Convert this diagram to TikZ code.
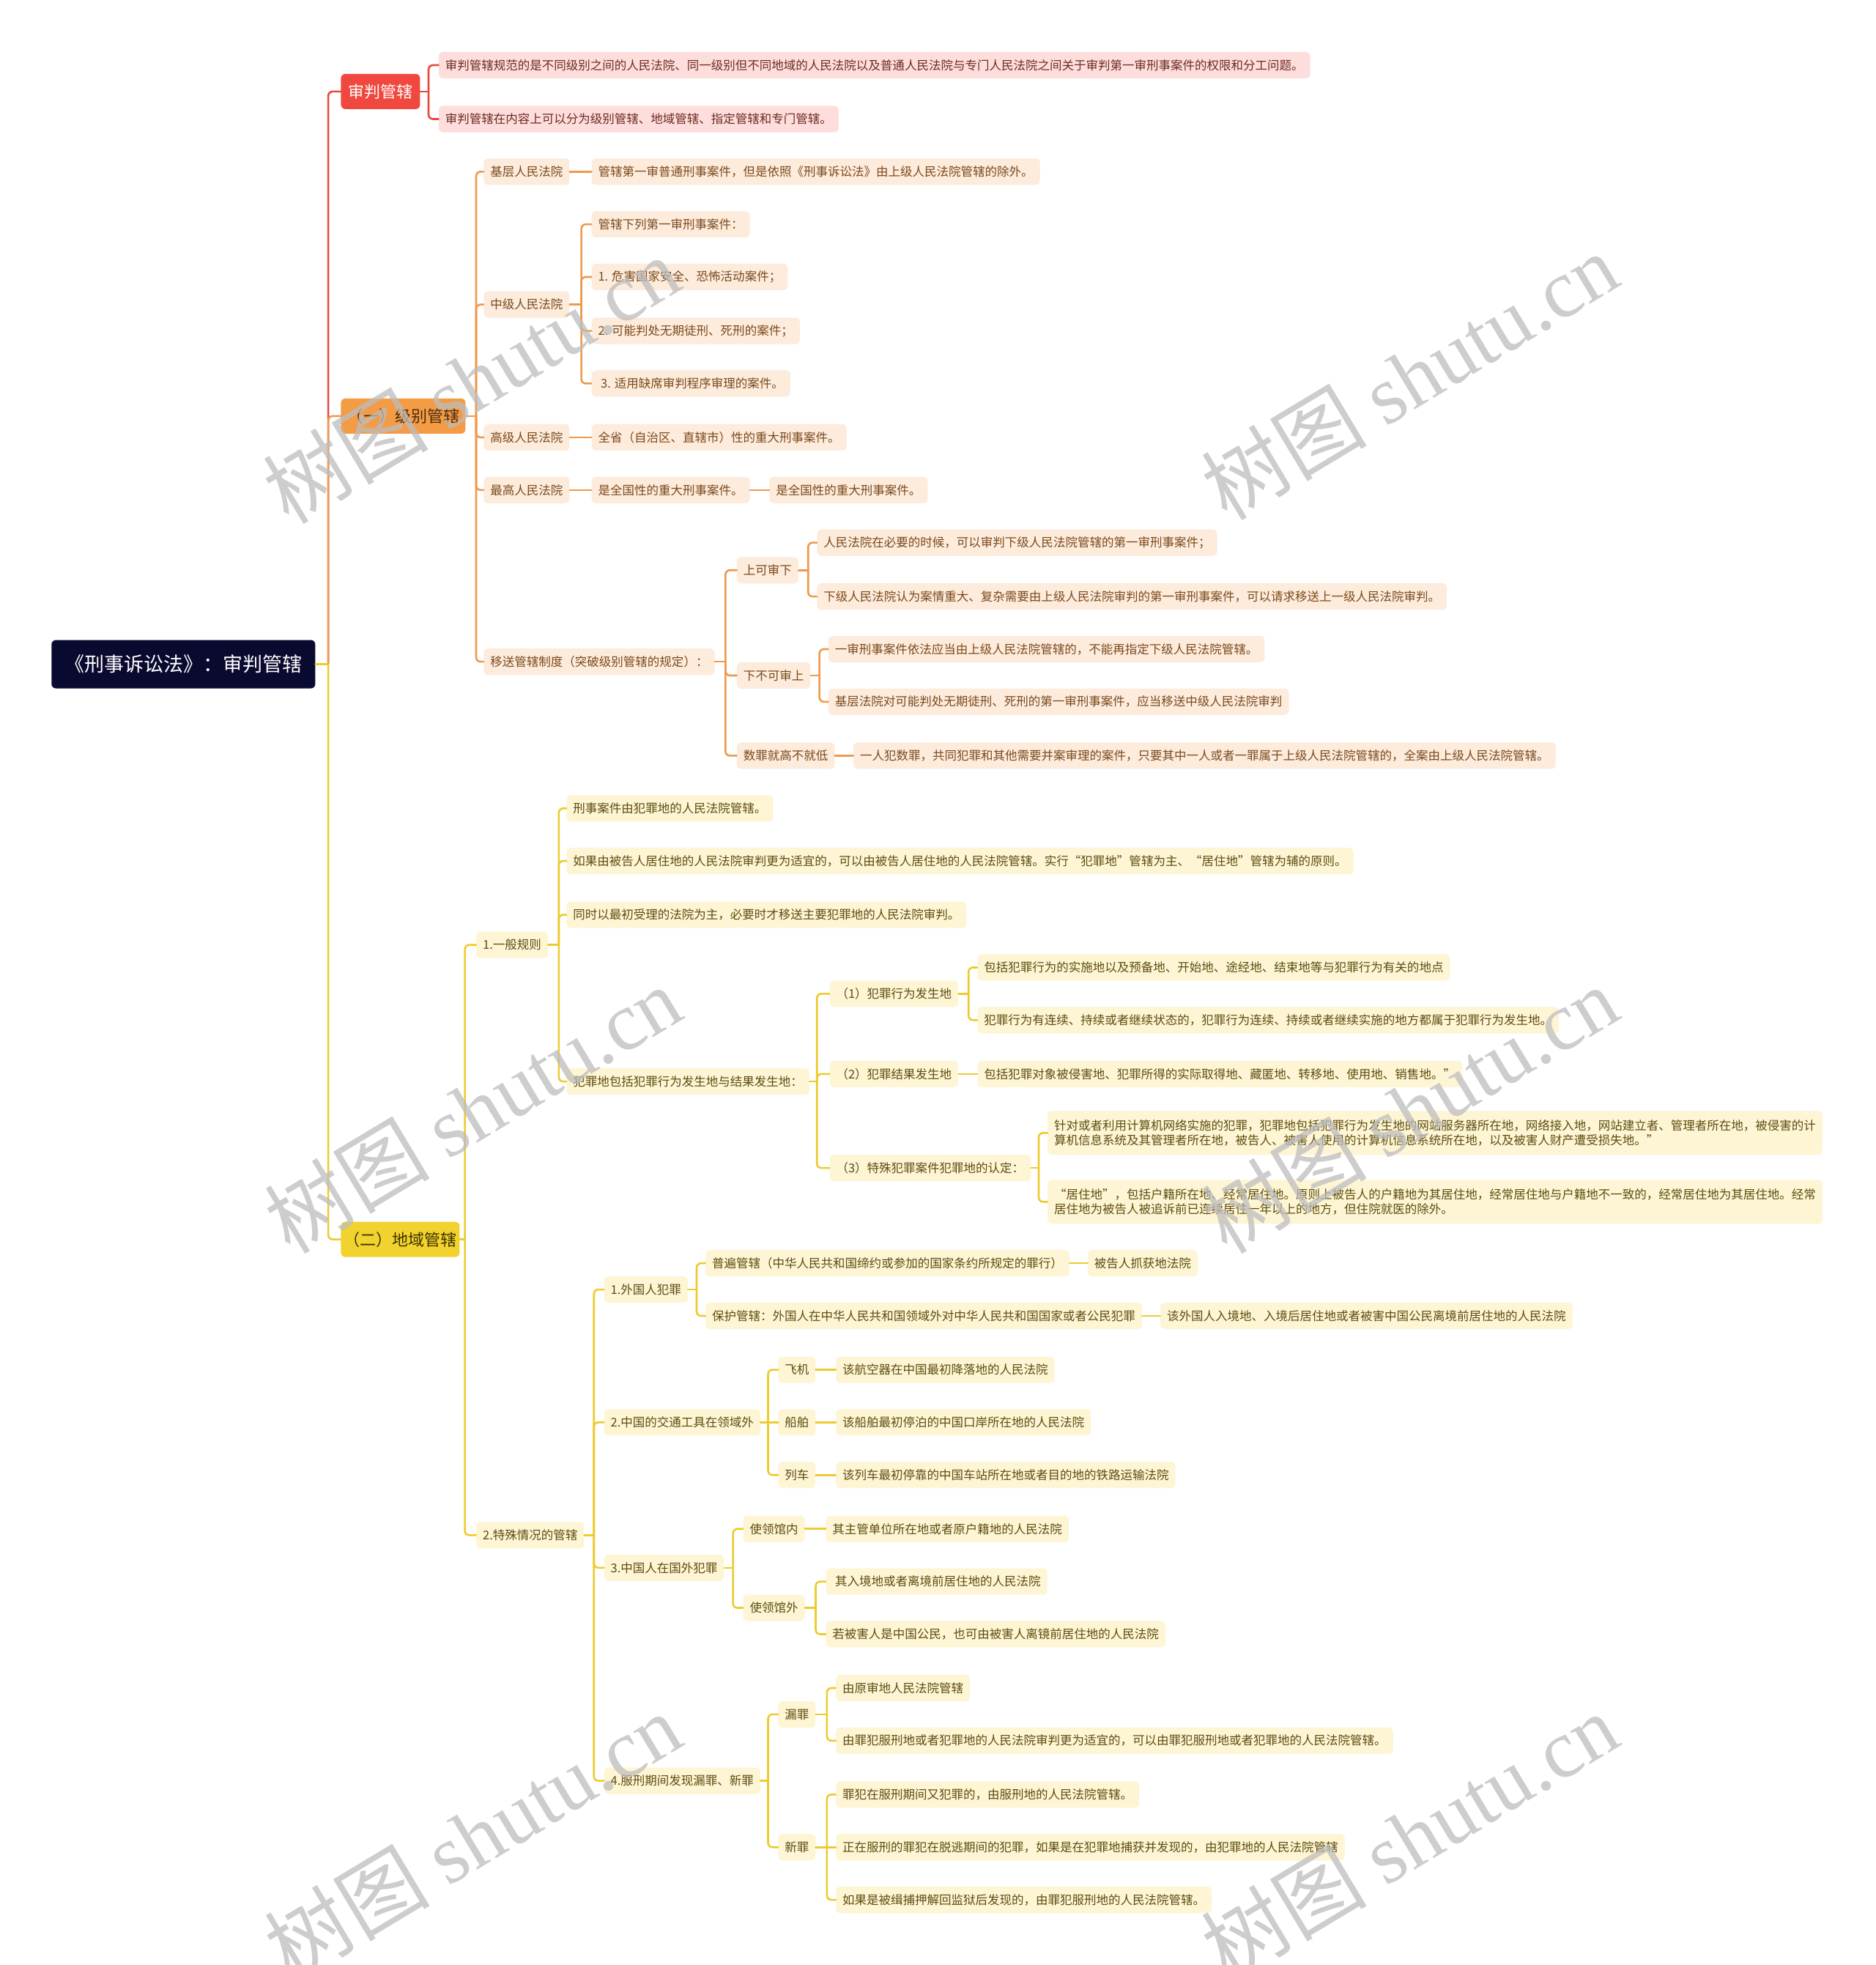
\documentclass[tikz,border=0pt]{standalone}
\usepackage{fontspec}
\setmainfont{Noto Sans CJK SC}
\newfontfamily\wmlatin{Liberation Serif}
\usetikzlibrary{calc}
\definecolor{rootfill}{HTML}{0A0A30}
\definecolor{redfill}{HTML}{F0483E}
\definecolor{redline}{HTML}{E8473C}
\definecolor{pinkfill}{HTML}{FDDEDC}
\definecolor{pinktext}{HTML}{6E2A22}
\definecolor{orgfill}{HTML}{F39B45}
\definecolor{orgline}{HTML}{EE9A4C}
\definecolor{orgtext}{HTML}{4A2D10}
\definecolor{peachfill}{HTML}{FDEBDC}
\definecolor{peachtext}{HTML}{7A4A1C}
\definecolor{yelfill}{HTML}{F2D22E}
\definecolor{yelline}{HTML}{EDCB2E}
\definecolor{yeltext}{HTML}{3D3200}
\definecolor{creamfill}{HTML}{FDF5D4}
\definecolor{creamtext}{HTML}{5E4C10}
\definecolor{wmgray}{HTML}{BDBDBD}
\newcommand\fork[4]{%
  \coordinate (bx) at (#3,0);
  \draw[#1] (#2.east) -- (#2.east -| bx);
  \foreach \ch in {#4}{\draw[#1,rounded corners=6pt] (#2.east -| bx) |- (\ch.west);}%
}
\newcommand\straight[3]{\draw[#1] (#2.east) -- (#3.west);}
\begin{document}
\begin{tikzpicture}[x=1.7101pt,y=-1.7101pt,
  boxbase/.style={anchor=west, rounded corners=6pt, inner ysep=0pt},
  rootbox/.style={boxbase, fill=rootfill, text=white, font=\fontsize{27}{32}\selectfont, inner xsep=18pt, minimum height=66pt},
  lone/.style={boxbase, font=\fontsize{22}{26}\selectfont, inner xsep=10pt, minimum height=48pt},
  leaf/.style={boxbase, font=\fontsize{16.5}{20.5}\selectfont, inner xsep=9pt, minimum height=36pt},
  pinkleaf/.style={leaf, fill=pinkfill, text=pinktext},
  peachleaf/.style={leaf, fill=peachfill, text=peachtext},
  creamleaf/.style={leaf, fill=creamfill, text=creamtext},
  twoline/.style={creamleaf, align=left, inner ysep=6pt, minimum height=60pt},
  redln/.style={draw=redline, line width=2.6pt, line cap=round},
  orgln/.style={draw=orgline, line width=2.6pt, line cap=round},
  yelln/.style={draw=yelline, line width=2.6pt, line cap=round},
  wm/.style={text=wmgray, opacity=0.75, font=\fontsize{113}{113}\selectfont, rotate=31}
]
\clip (0,0) rectangle (1497,1568);
\useasboundingbox (0,0) rectangle (1497,1568);
\fill[white] (0,0) rectangle (1497,1568);

% root and level 1
\node[rootbox] (root) at (41,530) {《刑事诉讼法》：审判管辖};
\node[lone, fill=redfill, text=white] (La) at (272,73) {审判管辖};
\node[lone, fill=orgfill, text=orgtext, inner xsep=8pt] (Lb) at (272,332) {（一）级别管辖};
\node[lone, fill=yelfill, text=yeltext, inner xsep=4pt] (Lc) at (272,989) {（二）地域管辖};

% red branch
\node[pinkleaf] (P1) at (350,52) {审判管辖规范的是不同级别之间的人民法院、同一级别但不同地域的人民法院以及普通人民法院与专门人民法院之间关于审判第一审刑事案件的权限和分工问题。};
\node[pinkleaf] (P2) at (350,95) {审判管辖在内容上可以分为级别管辖、地域管辖、指定管辖和专门管辖。};

% orange branch
\node[peachleaf] (A1) at (386,137) {基层人民法院};
\node[peachleaf] (A1a) at (472,137) {管辖第一审普通刑事案件，但是依照《刑事诉讼法》由上级人民法院管辖的除外。};
\node[peachleaf] (A2) at (386,243) {中级人民法院};
\node[peachleaf] (A2a) at (472,179) {管辖下列第一审刑事案件：};
\node[peachleaf] (A2b) at (472,221) {1. 危害国家安全、恐怖活动案件；};
\node[peachleaf] (A2c) at (472,264) {2. 可能判处无期徒刑、死刑的案件；};
\node[peachleaf] (A2d) at (472,306) {\ 3. 适用缺席审判程序审理的案件。};
\node[peachleaf] (A3) at (386,349) {高级人民法院};
\node[peachleaf] (A3a) at (472,349) {全省（自治区、直辖市）性的重大刑事案件。};
\node[peachleaf] (A4) at (386,391) {最高人民法院};
\node[peachleaf] (A4a) at (472,391) {是全国性的重大刑事案件。};
\node[peachleaf] (A4b) at (614,391) {是全国性的重大刑事案件。};
\node[peachleaf] (A5) at (386,528) {移送管辖制度（突破级别管辖的规定）：};
\node[peachleaf] (A51) at (588,455) {上可审下};
\node[peachleaf] (A51a) at (652,433) {人民法院在必要的时候，可以审判下级人民法院管辖的第一审刑事案件；};
\node[peachleaf] (A51b) at (652,476) {下级人民法院认为案情重大、复杂需要由上级人民法院审判的第一审刑事案件，可以请求移送上一级人民法院审判。};
\node[peachleaf] (A52) at (588,539) {下不可审上};
\node[peachleaf] (A52a) at (661,518) {一审刑事案件依法应当由上级人民法院管辖的，不能再指定下级人民法院管辖。};
\node[peachleaf] (A52b) at (661,560) {基层法院对可能判处无期徒刑、死刑的第一审刑事案件，应当移送中级人民法院审判};
\node[peachleaf] (A53) at (588,603) {数罪就高不就低};
\node[peachleaf] (A53a) at (681,603) {一人犯数罪，共同犯罪和其他需要并案审理的案件，只要其中一人或者一罪属于上级人民法院管辖的，全案由上级人民法院管辖。};

% yellow branch: general rules
\node[creamleaf] (B1) at (380,754) {1.一般规则};
\node[creamleaf] (B1a) at (452,645) {刑事案件由犯罪地的人民法院管辖。};
\node[creamleaf] (B1b) at (452,687) {如果由被告人居住地的人民法院审判更为适宜的，可以由被告人居住地的人民法院管辖。实行“犯罪地”管辖为主、“居住地”管辖为辅的原则。};
\node[creamleaf] (B1c) at (452,730) {同时以最初受理的法院为主，必要时才移送主要犯罪地的人民法院审判。};
\node[creamleaf] (B1d) at (452,863) {犯罪地包括犯罪行为发生地与结果发生地：};
\node[creamleaf] (C1) at (662,793) {（1）犯罪行为发生地};
\node[creamleaf] (C1a) at (780,772) {包括犯罪行为的实施地以及预备地、开始地、途经地、结束地等与犯罪行为有关的地点};
\node[creamleaf] (C1b) at (780,814) {犯罪行为有连续、持续或者继续状态的，犯罪行为连续、持续或者继续实施的地方都属于犯罪行为发生地。};
\node[creamleaf] (C2) at (662,857) {（2）犯罪结果发生地};
\node[creamleaf] (C2a) at (780,857) {包括犯罪对象被侵害地、犯罪所得的实际取得地、藏匿地、转移地、使用地、销售地。”};
\node[creamleaf] (C3) at (662,932) {（3）特殊犯罪案件犯罪地的认定：};
\node[twoline] (C3a) at (836,904) {针对或者利用计算机网络实施的犯罪，犯罪地包括犯罪行为发生地的网站服务器所在地，网络接入地，网站建立者、管理者所在地，被侵害的计\\算机信息系统及其管理者所在地，被告人、被害人使用的计算机信息系统所在地，以及被害人财产遭受损失地。”};
\node[twoline] (C3b) at (836,959) {“居住地”，包括户籍所在地、经常居住地。原则上被告人的户籍地为其居住地，经常居住地与户籍地不一致的，经常居住地为其居住地。经常\\居住地为被告人被追诉前已连续居住一年以上的地方，但住院就医的除外。};

% yellow branch: special cases
\node[creamleaf] (B2) at (380,1225) {2.特殊情况的管辖};
\node[creamleaf] (D1) at (482,1029) {1.外国人犯罪};
\node[creamleaf] (D1a) at (563,1008) {普遍管辖（中华人民共和国缔约或参加的国家条约所规定的罪行）};
\node[creamleaf] (D1a1) at (868,1008) {被告人抓获地法院};
\node[creamleaf] (D1b) at (563,1050) {保护管辖：外国人在中华人民共和国领域外对中华人民共和国国家或者公民犯罪};
\node[creamleaf] (D1b1) at (926,1050) {该外国人入境地、入境后居住地或者被害中国公民离境前居住地的人民法院};
\node[creamleaf] (D2) at (482,1135) {2.中国的交通工具在领域外};
\node[creamleaf] (D2a) at (621,1093) {飞机};
\node[creamleaf] (D2a1) at (667,1093) {该航空器在中国最初降落地的人民法院};
\node[creamleaf] (D2b) at (621,1135) {船舶};
\node[creamleaf] (D2b1) at (667,1135) {该船舶最初停泊的中国口岸所在地的人民法院};
\node[creamleaf] (D2c) at (621,1177) {列车};
\node[creamleaf] (D2c1) at (667,1177) {该列车最初停靠的中国车站所在地或者目的地的铁路运输法院};
\node[creamleaf] (D3) at (482,1251) {3.中国人在国外犯罪};
\node[creamleaf] (D3a) at (593,1220) {使领馆内};
\node[creamleaf] (D3a1) at (659,1220) {其主管单位所在地或者原户籍地的人民法院};
\node[creamleaf] (D3b) at (593,1283) {使领馆外};
\node[creamleaf] (D3b1) at (659,1262) {\ 其入境地或者离境前居住地的人民法院};
\node[creamleaf] (D3b2) at (659,1304) {若被害人是中国公民，也可由被害人离镜前居住地的人民法院};
\node[creamleaf] (D4) at (482,1421) {4.服刑期间发现漏罪、新罪};
\node[creamleaf] (D4a) at (621,1368) {漏罪};
\node[creamleaf] (D4a1) at (667,1347) {由原审地人民法院管辖};
\node[creamleaf] (D4a2) at (667,1389) {由罪犯服刑地或者犯罪地的人民法院审判更为适宜的，可以由罪犯服刑地或者犯罪地的人民法院管辖。};
\node[creamleaf] (D4b) at (621,1474) {新罪};
\node[creamleaf] (D4b1) at (667,1432) {罪犯在服刑期间又犯罪的，由服刑地的人民法院管辖。};
\node[creamleaf] (D4b2) at (667,1474) {正在服刑的罪犯在脱逃期间的犯罪，如果是在犯罪地捕获并发现的，由犯罪地的人民法院管辖};
\node[creamleaf] (D4b3) at (667,1516) {如果是被缉捕押解回监狱后发现的，由罪犯服刑地的人民法院管辖。};

% trunk connectors
\coordinate (b0) at (262,0);
\draw[redln, rounded corners=6pt] (root.east -| b0) |- (La.west);
\draw[orgln, rounded corners=6pt] (root.east -| b0) |- (Lb.west);
\draw[yelln, rounded corners=6pt] (root.east -| b0) |- (Lc.west);
\draw[yelln] (root.east) -- (root.east -| b0);

% red
\fork{redln}{La}{342}{P1,P2}
% orange
\fork{orgln}{Lb}{380}{A1,A2,A3,A4,A5}
\straight{orgln}{A1}{A1a}
\fork{orgln}{A2}{464}{A2a,A2b,A2c,A2d}
\straight{orgln}{A3}{A3a}
\straight{orgln}{A4}{A4a}
\straight{orgln}{A4a}{A4b}
\fork{orgln}{A5}{579}{A51,A52,A53}
\fork{orgln}{A51}{645}{A51a,A51b}
\fork{orgln}{A52}{654}{A52a,A52b}
\straight{orgln}{A53}{A53a}
% yellow
\fork{yelln}{Lc}{371}{B1,B2}
\fork{yelln}{B1}{446}{B1a,B1b,B1c,B1d}
\fork{yelln}{B1d}{652}{C1,C2,C3}
\fork{yelln}{C1}{773}{C1a,C1b}
\straight{yelln}{C2}{C2a}
\fork{yelln}{C3}{829}{C3a,C3b}
\fork{yelln}{B2}{474}{D1,D2,D3,D4}
\fork{yelln}{D1}{556}{D1a,D1b}
\straight{yelln}{D1a}{D1a1}
\straight{yelln}{D1b}{D1b1}
\fork{yelln}{D2}{613}{D2a,D2c}
\straight{yelln}{D2}{D2b}
\straight{yelln}{D2a}{D2a1}
\straight{yelln}{D2b}{D2b1}
\straight{yelln}{D2c}{D2c1}
\fork{yelln}{D3}{585}{D3a,D3b}
\straight{yelln}{D3a}{D3a1}
\fork{yelln}{D3b}{651}{D3b1,D3b2}
\fork{yelln}{D4}{613}{D4a,D4b}
\fork{yelln}{D4a}{660}{D4a1,D4a2}
\fork{yelln}{D4b}{660}{D4b1,D4b3}
\straight{yelln}{D4b}{D4b2}

% watermarks
\node[wm] (w1) at (376,303) {树图 {\wmlatin shutu.cn}};
\node[wm] (w2) at (1125,300) {树图 {\wmlatin shutu.cn}};
\node[wm] (w3) at (377,885) {树图 {\wmlatin shutu.cn}};
\node[wm] (w4) at (1125,885) {树图 {\wmlatin shutu.cn}};
\node[wm] (w5) at (377,1465) {树图 {\wmlatin shutu.cn}};
\node[wm] (w6) at (1125,1465) {树图 {\wmlatin shutu.cn}};
\end{tikzpicture}
\end{document}
